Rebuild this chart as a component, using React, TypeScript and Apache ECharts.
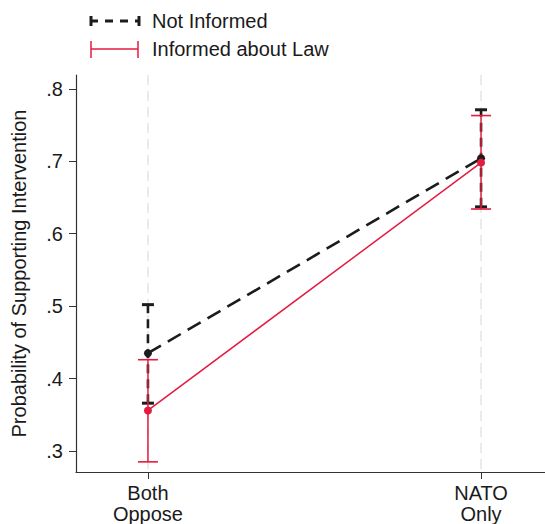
import React, { useEffect, useRef } from "react";
import * as echarts from "echarts";

const categories = ["Both\nOppose", "NATO\nOnly"];
const catPos = [0, 1];
const notInformed = [0.435, 0.704];
const notInformedLow = [0.366, 0.637];
const notInformedHigh = [0.502, 0.771];
const informed = [0.356, 0.698];
const informedLow = [0.285, 0.634];
const informedHigh = [0.426, 0.763];
const yTicks = [0.3, 0.4, 0.5, 0.6, 0.7, 0.8];
const seriesNames = ["Not Informed", "Informed about Law"];

const BLACK = "#1c1c1c";
const RED = "#e31b3f";
const FONT = "Liberation Sans, Arial, Helvetica, sans-serif";

function errorBars(color: string, lw: number, capW: number, capLW: number, dashed: boolean) {
  return (params: any, api: any) => {
    const x = api.value(0);
    const lo = api.coord([x, api.value(1)]);
    const hi = api.coord([x, api.value(2)]);
    const hw = capW / 2;
    const children: any[] = [];
    if (dashed) {
      children.push({
        type: "line",
        shape: { x1: lo[0], y1: lo[1], x2: hi[0], y2: hi[1] },
        style: { stroke: color, lineWidth: lw, lineDash: [9, 6], fill: null },
      });
    } else {
      children.push({
        type: "rect",
        shape: { x: lo[0] - lw / 2, y: hi[1], width: lw, height: lo[1] - hi[1] },
        style: { fill: color, stroke: null },
      });
    }
    children.push({
      type: "rect",
      shape: { x: lo[0] - hw, y: lo[1] - capLW / 2, width: capW, height: capLW },
      style: { fill: color, stroke: null },
    });
    children.push({
      type: "rect",
      shape: { x: hi[0] - hw, y: hi[1] - capLW / 2, width: capW, height: capLW },
      style: { fill: color, stroke: null },
    });
    return { type: "group", children };
  };
}

function gridLines(params: any, api: any) {
  const cs = params.coordSys;
  const p = api.coord([api.value(0), 0.5]);
  return {
    type: "line",
    shape: { x1: p[0], y1: cs.y, x2: p[0], y2: cs.y + cs.height },
    style: { stroke: "#e4e4e4", lineWidth: 1.5, lineDash: [10, 6], fill: null },
  };
}

export default function App() {
  const ref = useRef<HTMLDivElement>(null);
  useEffect(() => {
    const chart = echarts.init(ref.current!, null, { renderer: "svg" });
    const option: any = {
      animation: false,
      textStyle: { fontFamily: FONT },
      grid: { left: 76, right: 0, top: 75, bottom: 52, containLabel: false },
      xAxis: {
        type: "value",
        min: -0.216,
        max: 1.192,
        axisLine: { show: true, onZero: false, lineStyle: { color: "#333", width: 1.2 } },
        axisTick: { show: true, customValues: catPos, length: 7, lineStyle: { color: "#333" } },
        axisLabel: {
          customValues: catPos,
          formatter: (v: number) => categories[Math.round(v)],
          fontSize: 20,
          lineHeight: 21,
          color: "#1a1a1a",
          margin: 10,
          fontFamily: FONT,
        },
        splitLine: { show: false },
      },
      yAxis: {
        type: "value",
        min: 0.271,
        max: 0.819,
        name: "Probability of Supporting Intervention",
        nameLocation: "middle",
        nameGap: 47,
        nameTextStyle: { fontSize: 20, color: "#1a1a1a", fontFamily: FONT },
        axisLine: { show: true, onZero: false, lineStyle: { color: "#333", width: 1.2 } },
        axisTick: { show: true, customValues: yTicks, length: 7, lineStyle: { color: "#333" } },
        axisLabel: {
          customValues: yTicks,
          formatter: (v: number) => v.toFixed(1).replace(/^0/, ""),
          fontSize: 20,
          color: "#1a1a1a",
          margin: 13,
          fontFamily: FONT,
        },
        splitLine: { show: false },
      },
      series: [
        {
          type: "custom",
          z: 1,
          silent: true,
          renderItem: gridLines,
          encode: { x: 0 },
          data: catPos.map((p) => [p]),
        },
        {
          type: "custom",
          name: seriesNames[0] + " CI",
          z: 2,
          renderItem: errorBars(BLACK, 2.6, 12, 3, true),
          encode: { x: 0, y: [1, 2] },
          data: catPos.map((p, i) => [p, notInformedLow[i], notInformedHigh[i]]),
        },
        {
          type: "custom",
          name: seriesNames[1] + " CI",
          z: 3,
          renderItem: errorBars(RED, 1.5, 20, 1.6, false),
          encode: { x: 0, y: [1, 2] },
          data: catPos.map((p, i) => [p, informedLow[i], informedHigh[i]]),
        },
        {
          type: "line",
          name: seriesNames[0],
          z: 4,
          data: catPos.map((p, i) => [p, notInformed[i]]),
          symbol: "circle",
          symbolSize: 8,
          itemStyle: { color: BLACK },
          lineStyle: { color: BLACK, width: 2.6, type: [15, 8] },
        },
        {
          type: "line",
          name: seriesNames[1],
          z: 5,
          data: catPos.map((p, i) => [p, informed[i]]),
          symbol: "circle",
          symbolSize: 8,
          itemStyle: { color: RED },
          lineStyle: { color: RED, width: 1.5 },
        },
      ],
      graphic: [
        { type: "line", shape: { x1: 90, y1: 21, x2: 140, y2: 21 }, style: { stroke: BLACK, lineWidth: 3, lineDash: [8, 7] } },
        { type: "rect", shape: { x: 89.5, y: 16, width: 3, height: 10 }, style: { fill: BLACK } },
        { type: "rect", shape: { x: 137.5, y: 16, width: 3, height: 10 }, style: { fill: BLACK } },
        { type: "text", x: 152, y: 21, style: { text: seriesNames[0], fontSize: 20, fill: "#1a1a1a", fontFamily: FONT, textVerticalAlign: "middle", verticalAlign: "middle" } },
        { type: "rect", shape: { x: 91, y: 48.25, width: 47, height: 1.5 }, style: { fill: RED } },
        { type: "rect", shape: { x: 90.25, y: 41, width: 1.5, height: 17 }, style: { fill: RED } },
        { type: "rect", shape: { x: 137.25, y: 41, width: 1.5, height: 17 }, style: { fill: RED } },
        { type: "text", x: 152, y: 49, style: { text: seriesNames[1], fontSize: 20, fill: "#1a1a1a", fontFamily: FONT, textVerticalAlign: "middle", verticalAlign: "middle" } },
      ],
    };
    chart.setOption(option);
    return () => chart.dispose();
  }, []);
  return <div ref={ref} style={{ width: 545, height: 524, position: "absolute", left: 0, top: 0 }} />;
}
